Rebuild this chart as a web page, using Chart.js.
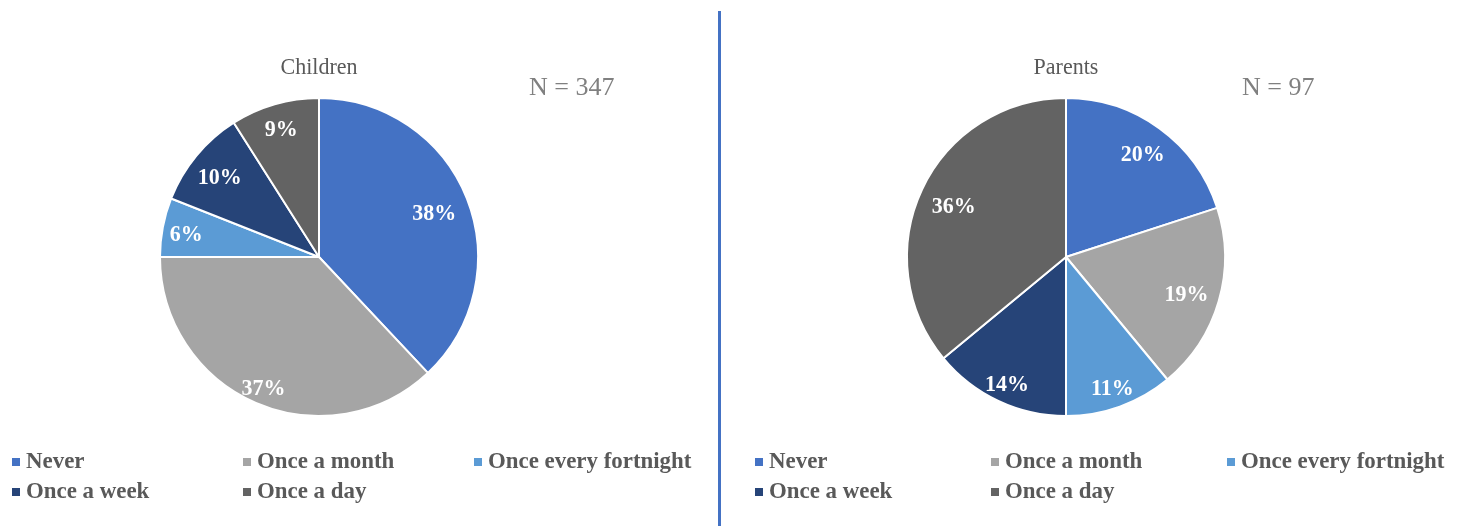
<!DOCTYPE html>
<html>
<head>
<meta charset="utf-8">
<script src="https://cdn.jsdelivr.net/npm/chart.js@4/dist/chart.umd.min.js"></script>
<style>
  body { margin: 0; background: #fff; font-family: "Liberation Serif", "Times New Roman", serif; }
  #wrap { position: relative; width: 1464px; height: 526px; overflow: hidden; }
  .panel { position: absolute; top: 0; height: 526px; }
  .panel canvas { position: absolute; left: 0; top: 0; }
  .divider { position: absolute; left: 718px; top: 11px; width: 3px; height: 515px; background: #4472C4; }
  .title { position: absolute; top: 54px; font-size: 22px; color: #595959; transform: translateX(-50%) scaleY(1.05); white-space: nowrap; }
  .count { position: absolute; top: 72px; font-size: 26px; color: #808080; white-space: nowrap; }
  .legend { position: absolute; top: 448px; display: grid; row-gap: 4px; }
  .legend .item { display: flex; align-items: center; font-weight: bold; font-size: 22.9px; color: #595959; white-space: nowrap; line-height: 26px; }
  .legend .item span.txt { display: inline-block; transform: scaleY(1.04); }
  .legend .box { width: 8px; height: 8px; margin-right: 6px; margin-top: 2px; flex: none; }
</style>
</head>
<body>
<div id="wrap">
  <div class="panel" id="leftPanel" style="left:0;width:718px">
    <canvas id="childrenChart" width="718" height="526"></canvas>
    <div class="title" style="left:319px">Children</div>
    <div class="count" style="left:529px">N = 347</div>
    <div class="legend" id="childrenLegend" style="left:12px;grid-template-columns:231px 231px 231px"></div>
  </div>
  <div class="divider"></div>
  <div class="panel" id="rightPanel" style="left:722px;width:742px">
    <canvas id="parentsChart" width="742" height="526"></canvas>
    <div class="title" style="left:344px">Parents</div>
    <div class="count" style="left:520px">N = 97</div>
    <div class="legend" id="parentsLegend" style="left:33px;grid-template-columns:236px 236px 236px"></div>
  </div>
</div>
<script>
const categories = ['Never', 'Once a month', 'Once every fortnight', 'Once a week', 'Once a day'];
const childrenPct = [38, 37, 6, 10, 9];
const parentsPct = [20, 19, 11, 14, 36];
const sliceColors = ['#4472C4', '#A5A5A5', '#5B9BD5', '#264478', '#636363'];

// percentage labels inside each slice; opts.radius = fraction of the outer radius per slice
const sliceLabels = {
  id: 'sliceLabels',
  afterDatasetsDraw(chart, args, opts) {
    const ctx = chart.ctx;
    const ds = chart.data.datasets[0];
    const meta = chart.getDatasetMeta(0);
    ctx.save();
    ctx.font = 'bold 22px "Liberation Serif", serif';
    ctx.fillStyle = '#ffffff';
    ctx.textAlign = 'center';
    ctx.textBaseline = 'middle';
    meta.data.forEach((arc, i) => {
      const p = arc.getProps(['x', 'y', 'startAngle', 'endAngle', 'outerRadius'], true);
      const mid = (p.startAngle + p.endAngle) / 2;
      const r = p.outerRadius * (opts.radius ? opts.radius[i] : 0.82);
      ctx.save();
      ctx.translate(p.x + Math.cos(mid) * r, p.y + Math.sin(mid) * r + 3);
      ctx.scale(1, 1.08);
      ctx.fillText(ds.data[i] + '%', 0, 0);
      ctx.restore();
    });
    ctx.restore();
  }
};

function makePie(id, values, padLeft, padRight, labelRadius) {
  return new Chart(document.getElementById(id), {
    type: 'pie',
    data: {
      labels: categories,
      datasets: [{
        data: values,
        backgroundColor: sliceColors,
        borderColor: '#ffffff',
        borderWidth: 2
      }]
    },
    options: {
      responsive: false,
      animation: false,
      layout: { padding: { left: padLeft, right: padRight, top: 97, bottom: 109 } },
      plugins: {
        legend: { display: false },
        tooltip: { enabled: false },
        sliceLabels: { radius: labelRadius }
      }
    },
    plugins: [sliceLabels]
  });
}

function buildLegend(id) {
  const el = document.getElementById(id);
  categories.forEach((name, i) => {
    const item = document.createElement('div');
    item.className = 'item';
    item.innerHTML = '<span class="box" style="background:' + sliceColors[i] + '"></span><span class="txt">' + name + '</span>';
    el.appendChild(item);
  });
}

makePie('childrenChart', childrenPct, 159, 239, [0.78, 0.88, 0.85, 0.81, 0.85]);
makePie('parentsChart', parentsPct, 184, 238, [0.82, 0.79, 0.86, 0.87, 0.78]);
buildLegend('childrenLegend');
buildLegend('parentsLegend');
</script>
</body>
</html>
